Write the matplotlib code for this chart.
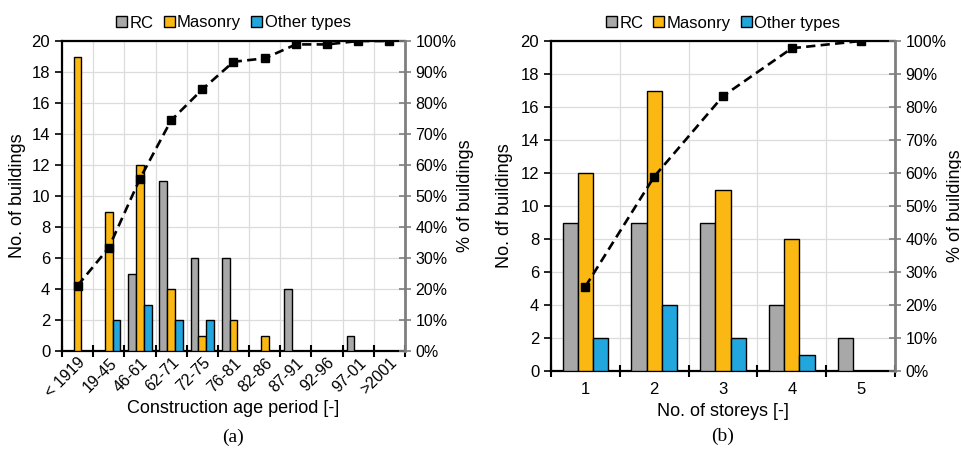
import numpy as np
import matplotlib
matplotlib.use("Agg")
import matplotlib.pyplot as plt
from matplotlib.ticker import PercentFormatter
from matplotlib.patches import Patch

plt.rcParams['font.family'] = ['Liberation Sans', 'DejaVu Sans']

# (a) construction age period
periods = ["< 1919", "19-45", "46-61", "62-71", "72-75", "76-81",
           "82-86", "87-91", "92-96", "97-01", ">2001"]
rc_a = [0, 0, 5, 11, 6, 6, 0, 4, 0, 1, 0]
mas_a = [19, 9, 12, 4, 1, 2, 1, 0, 0, 0, 0]
oth_a = [0, 2, 3, 2, 2, 0, 0, 0, 0, 0, 0]
cum_a = [21.1, 33.3, 55.6, 74.4, 84.4, 93.3, 94.4, 98.9, 98.9, 100, 100]

# (b) number of storeys
storeys = ["1", "2", "3", "4", "5"]
rc_b = [9, 9, 9, 4, 2]
mas_b = [12, 17, 11, 8, 0]
oth_b = [2, 4, 2, 1, 0]
cum_b = [25.6, 58.9, 83.3, 97.8, 100]

C_RC = "#a8a8a8"
C_MAS = "#fbb812"
C_OTH = "#21a6dd"
GRID = "#dcdcdc"
FS_TICK = 11.5
FS_LAB = 13


def panel(fig, px, cats, rc, mas, oth, cum, bw, xlabel, ylabel, tag, rot,
          xl_top, tag_y, yl_x, yl2_x):
    # px = (left, top, right, bottom) in pixels
    l, t, r, b = px
    W, H = 962, 450
    ax = fig.add_axes([l / W, 1 - b / H, (r - l) / W, (b - t) / H])
    hgt = b - t
    wid = r - l
    x = np.arange(len(cats))
    for off, vals, col in [(-bw, rc, C_RC), (0, mas, C_MAS), (bw, oth, C_OTH)]:
        v = np.array(vals, dtype=float)
        m = v > 0
        ax.bar(x[m] + off, v[m], width=bw, color=col, edgecolor="black",
               linewidth=1.0, zorder=3)
    ax.set_xlim(-0.5, len(cats) - 0.5)
    ax.set_ylim(0, 20)
    ax.set_yticks(range(0, 21, 2))
    ax.set_xticks(np.arange(len(cats) + 1) - 0.5)
    ax.set_xticklabels([])
    ax.set_xticks(x, minor=True)
    if rot:
        ax.set_xticklabels(cats, minor=True, rotation=45, ha="right",
                           rotation_mode="anchor", fontsize=FS_TICK)
        ax.tick_params(axis="x", which="minor", length=0, pad=3)
    else:
        ax.set_xticklabels(cats, minor=True, fontsize=FS_TICK + 0.5)
        ax.tick_params(axis="x", which="minor", length=0, pad=8)
    ax.tick_params(axis="x", which="major", direction="inout", length=9,
                   width=1.5)
    ax.tick_params(axis="y", direction="out", length=5, width=1.2,
                   labelsize=FS_TICK + 0.5)
    ax.grid(True, color=GRID, linewidth=0.9, zorder=0)
    ax.set_axisbelow(True)
    for s in ["left", "bottom", "top"]:
        ax.spines[s].set_linewidth(1.6)
        ax.spines[s].set_color("black")
    ax.spines["right"].set_visible(False)
    ax.set_ylabel(ylabel, fontsize=FS_LAB)
    ax.yaxis.set_label_coords((yl_x - l) / wid, 0.5)
    ax.yaxis.label.set_va("center")
    ax.yaxis.label.set_ha("center")
    ax.set_xlabel(xlabel, fontsize=FS_LAB)
    ax.xaxis.set_label_coords(0.5, (b - xl_top) / hgt)

    ax2 = ax.twinx()
    ax2.plot(x, cum, linestyle=(0, (3.5, 2)), color="black", linewidth=1.9,
             marker="s", markersize=6, zorder=5)
    ax2.set_ylim(0, 100)
    ax2.set_yticks(range(0, 101, 10))
    ax2.yaxis.set_major_formatter(PercentFormatter(decimals=0))
    ax2.tick_params(axis="y", direction="inout", length=8, width=1.2,
                    color="#7f7f7f", labelsize=FS_TICK)
    for s in ["left", "bottom", "top"]:
        ax2.spines[s].set_visible(False)
    ax2.spines["right"].set_color("#7f7f7f")
    ax2.spines["right"].set_linewidth(2.0)
    ax2.set_ylabel("% of buildings", fontsize=FS_LAB)
    ax2.yaxis.set_label_coords((yl2_x - l) / wid, 0.5)
    ax2.yaxis.label.set_va("center")
    ax2.yaxis.label.set_ha("center")

    handles = [Patch(facecolor=C_RC, edgecolor="black", label="RC"),
               Patch(facecolor=C_MAS, edgecolor="black", label="Masonry"),
               Patch(facecolor=C_OTH, edgecolor="black", label="Other types")]
    ax.legend(handles=handles, loc="center", bbox_to_anchor=(0.5, (b - 23) / hgt),
              ncol=3, frameon=False, fontsize=12, handlelength=0.65,
              handleheight=0.65, handletextpad=0.15, columnspacing=0.6,
              borderaxespad=0, borderpad=0)
    ax.text(0.5, (b - tag_y) / hgt, tag, transform=ax.transAxes, ha="center",
            va="center", fontsize=14, family=["Liberation Serif", "DejaVu Serif"])
    return ax


fig = plt.figure(figsize=(9.62, 4.5), dpi=100)
panel(fig, (62, 41, 405, 351), periods, rc_a, mas_a, oth_a, cum_a, 0.25,
      "Construction age period [-]", "No. of buildings", "(a)", True,
      400, 437, 18, 466)
panel(fig, (551, 41, 895, 371), storeys, rc_b, mas_b, oth_b, cum_b, 0.22,
      "No. of storeys [-]", "No. df buildings", "(b)", False,
      403, 436, 505, 955)
fig.savefig("out.png", dpi=100)
